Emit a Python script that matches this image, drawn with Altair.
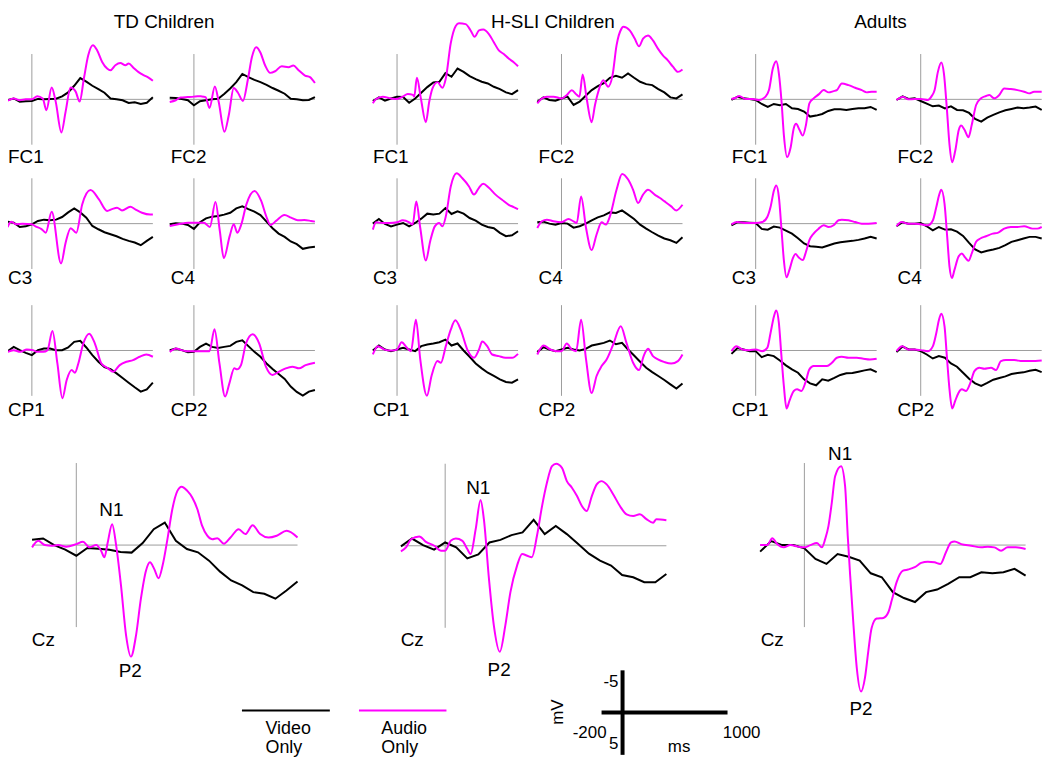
import altair as alt
import pandas as pd

# ---------------------------------------------------------------- data
GROUPS = ["TD Children", "H-SLI Children", "Adults"]
SITES = ["FC1", "FC2", "C3", "C4", "CP1", "CP2"]
SERIES = ["Video Only", "Audio Only"]
SERIES_COLORS = ["#000000", "#ff00ff"]

# time grid (ms) for the Video Only traces
VIDEO_T = list(range(-200, 1001, 50))

# Audio Only traces: (ms, microvolt) read at the turning points; negative is up
TD_FC1_AUDIO = [(-200,0.15),(-150,-0.1),(-100,0.1),(-50,0.0),(0,0.0),(45,-0.35),(90,-0.1),(120,1.2),(164,-1.3),(197,0.25),(244,3.65),(279,1.35),(320,-1.3),(362,-0.85),(395,0.25),(430,-2.3),(466,-4.86),(504,-5.96),(540,-5.4),(581,-4.13),(622,-3.4),(649,-3.2),(690,-3.76),(731,-4.0),(773,-3.76),(800,-3.95),(841,-3.47),(882,-3.0),(923,-2.67),(964,-2.4),(1000,-2.05)]
TD_FC2_AUDIO = [(-200,0.3),(-150,0.1),(-110,-0.2),(-50,-0.25),(0,-0.3),(30,-0.35),(60,-0.33),(96,-0.25),(129,0.95),(173,-1.43),(205,0.3),(252,3.58),(288,1.75),(329,-1.24),(364,-0.73),(405,0.18),(447,-2.27),(479,-4.64),(515,-5.74),(548,-5.2),(589,-3.73),(630,-2.92),(671,-3.1),(726,-3.65),(781,-3.55),(822,-3.73),(863,-3.25),(918,-2.63),(959,-2.45),(1000,-1.8)]
TD_C3_AUDIO = [(-200,0.37),(-172,-0.2),(-130,0.07),(-77,0.0),(0,0.07),(30,0.3),(80,0.6),(115,1.0),(164,-1.3),(241,4.4),(279,2.1),(321,0.5),(367,1.0),(416,-2.1),(485,-3.7),(553,-2.7),(622,-1.4),(663,-1.6),(704,-1.75),(745,-1.46),(814,-1.86),(855,-1.57),(910,-1.2),(978,-1.0),(1000,-1.0)]
TD_C4_AUDIO = [(-200,0.26),(-129,0.07),(-47,-0.1),(0,-0.1),(82,-0.1),(132,0.37),(178,-2.4),(214,0.8),(247,3.8),(296,1.35),(329,0.07),(359,1.0),(392,0.07),(433,-2.1),(501,-3.6),(556,-2.5),(597,-0.84),(633,0.15),(679,-0.3),(748,-0.95),(803,-0.66),(858,-0.37),(912,-0.4),(967,-0.3),(1000,-0.22)]
TD_CP1_AUDIO = [(-200,0.15),(-151,-0.04),(-96,0.15),(-41,-0.1),(8,-0.04),(41,0.15),(96,0.15),(129,-0.04),(170,-2.16),(211,1.43),(252,5.26),(288,3.25),(329,2.16),(356,2.45),(384,1.43),(425,-0.77),(474,-1.86),(521,-0.77),(575,1.43),(630,1.97),(671,2.34),(726,1.61),(781,1.24),(836,1.06),(890,0.69),(945,0.44),(1000,0.69)]
TD_CP2_AUDIO = [(-200,0.15),(-145,-0.22),(-104,-0.04),(-63,0.07),(0,0.07),(60,0.07),(129,0.07),(170,-2.34),(211,1.43),(258,5.08),(293,3.62),(334,1.97),(356,2.08),(389,1.61),(430,-0.77),(485,-1.8),(540,-0.77),(595,1.79),(649,2.7),(704,2.34),(759,1.97),(814,1.79),(868,1.97),(923,1.61),(1000,1.35)]

H_FC1_AUDIO = [(-200,0.44),(-173,-0.04),(-118,-0.3),(-49,-0.1),(0,-0.04),(47,-0.3),(88,-0.6),(132,-0.5),(142,-0.3),(164,-2.37),(197,-0.1),(238,2.52),(266,0.26),(293,-1.2),(334,-1.9),(375,-1.28),(403,-2.3),(444,-6.2),(485,-8.1),(512,-8.4),(567,-8.3),(608,-7.6),(641,-6.9),(677,-7.6),(712,-7.7),(759,-7.2),(800,-6.3),(841,-5.4),(882,-5.0),(923,-4.5),(964,-4.1),(1000,-3.65)]
H_FC2_AUDIO = [(-200,0.44),(-162,-0.1),(-121,-0.3),(-66,-0.3),(0,-0.1),(44,-0.48),(85,-1.0),(126,-0.5),(148,-0.3),(175,-2.74),(208,-0.1),(249,2.52),(277,0.62),(304,-0.84),(345,-2.1),(386,-1.4),(422,-2.67),(455,-5.95),(496,-7.8),(510,-8.0),(564,-7.6),(605,-6.7),(641,-5.85),(674,-6.7),(715,-7.05),(756,-6.5),(797,-5.6),(838,-4.86),(879,-4.3),(921,-3.6),(962,-3.03),(1000,-3.3)]
H_C3_AUDIO = [(-200,0.66),(-173,-0.15),(-118,-0.07),(-63,-0.07),(0,-0.15),(47,-0.37),(101,-0.15),(129,0.1),(159,-2.45),(192,0.48),(238,4.06),(274,1.94),(312,0.3),(348,-0.07),(375,0.3),(403,-0.8),(444,-4.1),(493,-5.55),(540,-5.0),(595,-4.1),(636,-3.2),(677,-3.95),(712,-4.4),(759,-3.95),(814,-3.2),(868,-2.63),(923,-2.08),(964,-1.83),(1000,-1.6)]
H_C4_AUDIO = [(-200,0.48),(-162,-0.26),(-121,-0.44),(-66,-0.26),(0,-0.15),(58,-0.5),(99,-0.26),(126,-0.07),(162,-3.0),(203,0.48),(249,2.92),(290,1.2),(332,-0.15),(367,0.1),(400,-0.8),(455,-3.73),(501,-5.48),(551,-4.86),(592,-3.73),(633,-2.27),(674,-3.2),(715,-3.73),(770,-3.2),(811,-2.85),(852,-2.45),(907,-1.9),(948,-1.46),(1000,-2.08)]
H_CP1_AUDIO = [(-200,0.44),(-159,-0.48),(-104,-0.1),(-49,0.0),(0,-0.1),(38,-0.9),(82,-0.3),(115,0.07),(156,-3.4),(192,0.99),(247,5.0),(285,2.81),(334,1.17),(362,1.35),(403,-0.48),(444,-2.3),(482,-3.33),(526,-2.3),(581,-0.1),(636,0.8),(677,-0.1),(704,-1.0),(745,-0.48),(786,0.44),(841,0.62),(896,0.8),(951,0.8),(1000,0.37)]
H_CP2_AUDIO = [(-200,0.44),(-148,-0.55),(-93,-0.11),(-38,0.07),(0,0.07),(44,-0.77),(85,-0.11),(121,0.07),(162,-3.4),(203,0.99),(249,4.7),(290,2.81),(332,1.72),(373,0.99),(427,-0.66),(490,-2.67),(537,-0.84),(592,1.35),(641,2.16),(679,0.62),(715,-0.18),(756,0.62),(797,0.99),(852,1.28),(907,1.43),(962,1.17),(1000,0.44)]

A_FC1_AUDIO = [(-200,-0.04),(-164,-0.18),(-137,-0.37),(-82,-0.04),(-27,-0.04),(27,0.07),(82,-0.3),(110,-1.02),(142,-3.4),(170,-4.2),(192,-2.85),(214,0.26),(233,3.91),(260,6.36),(288,5.37),(315,3.18),(334,2.7),(362,3.36),(389,4.0),(416,2.8),(444,0.44),(479,-0.11),(521,-0.55),(562,-1.02),(603,-0.77),(644,-0.91),(671,-1.02),(712,-1.75),(767,-1.57),(822,-1.28),(877,-1.02),(918,-0.77),(959,-0.84),(1000,-0.84)]
A_FC2_AUDIO = [(-200,0.07),(-145,-0.3),(-104,0.0),(-49,-0.04),(0,-0.04),(60,0.07),(88,-0.3),(115,-1.02),(142,-3.03),(170,-4.06),(192,-2.85),(216,1.0),(238,5.0),(260,6.94),(285,5.7),(315,3.36),(334,2.89),(362,3.36),(395,4.17),(422,2.8),(458,0.62),(499,-0.11),(540,-0.37),(567,-0.48),(608,-0.11),(649,-0.48),(690,-1.2),(745,-1.13),(800,-1.02),(855,-0.84),(896,-0.66),(937,-0.84),(1000,-0.84)]
A_C3_AUDIO = [(-200,0.07),(-151,-0.18),(-82,-0.07),(0,-0.07),(55,-0.18),(96,-0.73),(123,-1.83),(151,-3.65),(170,-4.2),(192,-2.92),(214,0.73),(233,4.02),(255,5.92),(279,5.1),(307,3.84),(329,3.36),(356,3.73),(389,4.02),(416,3.1),(444,1.83),(479,1.1),(521,0.55),(562,0.18),(603,0.37),(644,0.18),(685,-0.37),(712,-0.44),(767,-0.37),(822,-0.18),(877,0.0),(932,0.0),(1000,-0.07)]
A_C4_AUDIO = [(-200,0.29),(-159,-0.18),(-104,0.0),(-49,0.0),(0,0.07),(60,0.18),(101,-0.37),(129,-1.83),(151,-3.1),(170,-3.73),(197,-2.19),(219,1.46),(238,4.75),(258,6.0),(279,5.1),(312,3.65),(340,3.29),(367,3.73),(395,4.1),(422,3.29),(458,2.0),(493,1.64),(540,1.39),(595,1.1),(636,1.02),(690,0.55),(745,0.37),(800,0.37),(855,0.29),(923,0.55),(964,0.55),(1000,0.37)]
A_CP1_AUDIO = [(-200,0.07),(-159,-0.48),(-110,-0.11),(-55,-0.04),(0,-0.11),(55,0.07),(96,-0.29),(123,-1.93),(151,-3.76),(170,-4.42),(192,-3.03),(211,0.26),(233,3.91),(255,6.4),(279,5.56),(315,4.46),(342,4.28),(378,4.46),(411,3.55),(444,2.08),(479,1.72),(534,1.72),(589,1.72),(630,1.35),(671,0.8),(712,0.69),(767,0.8),(836,0.8),(890,0.91),(945,0.99),(1000,0.91)]
A_CP2_AUDIO = [(-200,0.07),(-153,-0.48),(-104,-0.11),(-49,-0.11),(0,-0.04),(60,0.07),(101,-0.48),(129,-1.93),(151,-3.4),(170,-4.06),(197,-2.67),(216,0.62),(238,4.28),(260,6.4),(285,5.56),(312,4.68),(340,4.28),(375,4.46),(411,3.55),(444,2.27),(485,1.9),(526,2.01),(581,1.9),(622,2.16),(663,1.17),(704,1.06),(773,1.06),(841,1.17),(910,1.17),(1000,1.1)]

TD_CZ_AUDIO = [(-200,0.14),(-172,-0.26),(-142,0.0),(-112,0.04),(-82,0.0),(-45,0.1),(0,-0.06),(30,-0.2),(60,0.14),(90,0.0),(112,0.34),(127,0.75),(142,-0.16),(162,-1.27),(180,0.0),(202,2.46),(225,5.5),(247,6.8),(270,5.5),(292,3.27),(315,1.56),(333,1.05),(352,1.45),(372,2.02),(390,1.25),(412,-0.36),(434,-2.18),(457,-3.3),(476,-3.56),(502,-3.3),(524,-2.9),(547,-2.2),(569,-1.17),(592,-0.57),(614,-0.36),(637,-0.42),(667,-0.08),(697,-0.46),(734,-0.97),(764,-0.67),(797,-1.21),(831,-0.67),(869,-0.46),(906,-0.57),(951,-0.87),(1000,-0.46)]
H_CZ_AUDIO = [(-200,0.34),(-177,0.1),(-154,-0.4),(-117,-0.57),(-87,-0.24),(-49,0.0),(-19,0.3),(0,0.3),(25,-0.3),(48,-0.44),(78,-0.3),(100,0.2),(115,0.5),(138,-1.01),(160,-2.79),(175,-1.62),(198,2.02),(220,4.85),(247,6.46),(272,4.85),(295,2.83),(325,1.21),(348,0.5),(371,0.61),(392,0.7),(415,-0.61),(438,-2.42),(460,-3.84),(483,-4.85),(502,-5.0),(528,-4.75),(550,-3.94),(573,-3.54),(596,-3.03),(618,-2.42),(640,-2.12),(663,-3.03),(685,-3.74),(707,-3.94),(730,-3.74),(760,-3.13),(790,-2.42),(820,-1.92),(850,-1.82),(880,-1.92),(910,-1.62),(940,-1.41),(955,-1.62),(1000,-1.56)]
A_CZ_AUDIO = [(-200,0.0),(-168,0.0),(-145,-0.42),(-123,-0.06),(-93,0.14),(-63,0.0),(-33,0.08),(0,0.14),(27,0.0),(57,-0.12),(79,0.14),(94,-0.36),(109,-1.17),(124,-2.59),(139,-4.2),(166,-4.81),(184,-3.6),(196,-0.57),(207,1.86),(222,4.89),(237,7.51),(256,8.93),(274,8.08),(289,6.46),(304,5.05),(327,4.48),(357,4.44),(380,4.08),(395,3.37),(417,2.26),(446,1.56),(469,1.49),(499,1.35),(528,1.09),(558,1.01),(588,1.05),(615,1.15),(640,0.44),(663,-0.16),(679,-0.22),(709,-0.06),(754,0.04),(799,0.14),(829,0.1),(859,0.14),(889,0.34),(919,0.14),(956,0.14),(1000,0.24)]

# Video Only traces: microvolt at VIDEO_T
TD_FC1_VIDEO = [0.07,-0.1,0.25,0.2,0.18,-0.05,0.0,-0.05,-0.07,-0.33,-0.77,-1.5,-2.35,-1.95,-1.5,-1.13,-0.73,-0.1,0.0,0.1,0.4,0.33,0.5,0.37,-0.22]
TD_FC2_VIDEO = [-0.18,-0.15,-0.04,0.1,0.65,0.2,0.1,0.0,-0.07,-0.6,-1.2,-1.9,-2.8,-2.45,-2.15,-1.9,-1.6,-1.25,-0.95,-0.62,-0.07,0.0,0.1,0.07,-0.25]
TD_C3_VIDEO = [-0.22,-0.1,0.37,0.3,0.07,-0.3,-0.44,-0.37,-0.44,-0.73,-1.24,-1.68,-1.24,-0.66,0.26,0.62,0.95,1.17,1.39,1.68,1.9,2.08,2.38,1.9,1.46]
TD_C4_VIDEO = [0.07,-0.04,0.0,0.15,0.58,-0.15,-0.58,-0.77,-0.84,-0.99,-1.2,-1.68,-1.9,-1.6,-1.32,-0.95,-0.22,0.51,1.1,1.46,1.97,2.27,2.78,2.63,2.56]
TD_CP1_VIDEO = [0.07,-0.4,-0.04,0.26,0.51,-0.04,-0.22,-0.22,-0.04,-0.04,-0.33,-0.95,-1.06,-0.33,0.51,1.24,1.83,2.05,2.52,3.03,3.55,4.06,4.53,4.28,3.55]
TD_CP2_VIDEO = [-0.04,-0.22,-0.04,0.18,0.15,-0.4,-0.77,-0.4,-0.29,-0.4,-0.51,-0.95,-1.13,-0.48,0.15,0.69,1.43,2.05,2.6,3.14,3.98,4.57,4.97,4.53,4.35]

H_FC1_VIDEO = [0.18,-0.22,0.15,-0.1,-0.3,-0.26,0.37,-0.1,-0.73,-1.35,-1.86,-1.94,-2.89,-2.49,-3.4,-3.03,-2.56,-2.23,-1.94,-1.75,-1.39,-1.13,-0.77,-0.58,-1.02]
H_FC2_VIDEO = [0.26,-0.22,0.07,0.15,-0.1,-0.3,0.62,0.26,-0.4,-1.02,-1.46,-1.79,-2.38,-2.6,-2.38,-2.85,-2.38,-1.94,-1.68,-1.57,-1.13,-0.77,-0.22,-0.1,-0.55]
H_C3_VIDEO = [0.0,-0.51,0.04,0.3,0.11,-0.07,0.29,-0.07,-0.55,-1.1,-1.02,-1.1,-1.72,-1.06,-1.35,-1.1,-0.62,-0.33,0.11,0.37,0.51,1.02,1.39,1.28,0.84]
H_C4_VIDEO = [-0.15,-0.22,0.0,0.11,-0.07,0.0,0.44,0.29,0.0,-0.37,-0.69,-0.91,-1.24,-1.17,-1.46,-0.99,-0.51,0.11,0.55,0.95,1.32,1.64,1.83,2.12,1.5]
H_CP1_VIDEO = [0.0,-0.55,-0.11,0.07,-0.11,-0.29,-0.11,0.07,-0.48,-0.66,-0.77,-0.91,-1.2,-0.55,-0.77,0.0,0.69,1.43,1.97,2.45,2.81,3.18,3.47,3.55,3.18]
H_CP2_VIDEO = [0.18,-0.37,-0.11,0.07,-0.11,-0.29,-0.11,0.0,-0.18,-0.55,-0.69,-0.84,-1.1,-0.69,-0.84,-0.11,0.55,1.24,1.9,2.38,2.81,3.25,3.73,4.2,3.65]

A_FC1_VIDEO = [0.07,-0.29,-0.11,-0.04,0.07,0.51,0.84,0.51,0.66,0.51,0.99,1.06,1.35,1.9,1.79,1.61,1.28,1.1,1.1,1.17,1.06,0.99,0.99,0.84,1.17]
A_FC2_VIDEO = [0.07,-0.33,-0.04,-0.11,0.18,0.48,0.77,0.69,0.99,0.77,1.17,1.21,1.5,2.16,2.45,2.01,1.72,1.43,1.21,1.06,0.91,0.99,0.91,0.8,1.17]
A_C3_VIDEO = [0.18,-0.18,-0.15,-0.11,-0.07,0.58,0.66,0.33,0.44,0.77,1.1,1.61,2.19,2.49,2.56,2.63,2.41,2.19,2.05,1.97,1.9,1.79,1.64,1.46,1.64]
A_C4_VIDEO = [0.29,-0.15,0.0,0.0,-0.07,0.29,0.73,0.37,0.66,0.62,0.88,1.35,2.12,2.85,3.18,3.0,2.85,2.67,2.38,2.01,1.83,1.64,1.46,1.46,1.64]
A_CP1_VIDEO = [0.37,-0.26,-0.11,0.07,0.07,0.73,0.48,0.62,1.1,1.64,2.08,2.45,3.18,3.62,3.84,3.18,3.33,3.03,2.7,2.52,2.49,2.34,2.19,2.08,2.38]
A_CP2_VIDEO = [0.18,-0.44,-0.11,-0.11,0.07,0.44,0.88,0.62,0.8,1.43,1.79,2.45,3.11,3.62,3.91,3.58,3.22,3.03,2.85,2.6,2.49,2.41,2.23,2.12,2.38]

TD_CZ_VIDEO = [-0.32,-0.4,0.0,0.28,0.65,0.18,0.22,0.28,0.42,0.46,-0.12,-0.97,-1.37,-0.26,0.24,0.44,0.95,1.62,2.16,2.46,2.87,2.97,3.27,2.77,2.22]
H_CZ_VIDEO = [0.04,-0.44,-0.04,0.24,-0.2,0.1,0.77,0.53,-0.2,-0.36,-0.65,-0.81,-1.58,-0.71,-1.21,-0.71,-0.12,0.48,0.91,1.21,1.78,1.92,2.22,2.22,1.72]
A_CZ_VIDEO = [0.4,-0.24,0.0,0.0,0.2,0.85,1.15,0.55,0.71,0.95,1.72,1.96,2.87,3.23,3.47,2.87,2.71,2.36,1.96,1.96,1.66,1.72,1.66,1.45,1.86]

SMALL = {
    "TD Children": [(TD_FC1_AUDIO, TD_FC1_VIDEO), (TD_FC2_AUDIO, TD_FC2_VIDEO), (TD_C3_AUDIO, TD_C3_VIDEO),
                    (TD_C4_AUDIO, TD_C4_VIDEO), (TD_CP1_AUDIO, TD_CP1_VIDEO), (TD_CP2_AUDIO, TD_CP2_VIDEO)],
    "H-SLI Children": [(H_FC1_AUDIO, H_FC1_VIDEO), (H_FC2_AUDIO, H_FC2_VIDEO), (H_C3_AUDIO, H_C3_VIDEO),
                       (H_C4_AUDIO, H_C4_VIDEO), (H_CP1_AUDIO, H_CP1_VIDEO), (H_CP2_AUDIO, H_CP2_VIDEO)],
    "Adults": [(A_FC1_AUDIO, A_FC1_VIDEO), (A_FC2_AUDIO, A_FC2_VIDEO), (A_C3_AUDIO, A_C3_VIDEO),
               (A_C4_AUDIO, A_C4_VIDEO), (A_CP1_AUDIO, A_CP1_VIDEO), (A_CP2_AUDIO, A_CP2_VIDEO)],
}
LARGE = {"TD Children": (TD_CZ_AUDIO, TD_CZ_VIDEO),
         "H-SLI Children": (H_CZ_AUDIO, H_CZ_VIDEO),
         "Adults": (A_CZ_AUDIO, A_CZ_VIDEO)}

# ---------------------------------------------------------------- layout (page pixels)
OX, OY = 8, 8
W, H = 1040, 753
FONT = "Liberation Sans"
GRAY = "#9c9c9c"
SMALL_X0 = {"TD Children": [32.0, 195.0], "H-SLI Children": [399.3, 564.7], "Adults": [760.0, 926.0]}
SMALL_LABEL_X = {"TD Children": [8.0, 171.7], "H-SLI Children": [375.0, 541.7], "Adults": [736.0, 902.7]}
ROW_YB = [97.7, 222.7, 350.3]
ROW_LABEL_Y = [155.5, 277.5, 410.0]
PXMS_S, PXUV_S = 0.1217, 9.12
LARGE_X0 = {"TD Children": 76.7, "H-SLI Children": 447.7, "Adults": 809.0}
LARGE_YB = {"TD Children": 546.0, "H-SLI Children": 546.7, "Adults": 546.0}
PXMS_L, PXUV_L = 0.2225, 16.5
CZ_LABEL_X = {"TD Children": 32.0, "H-SLI Children": 403.0, "Adults": 765.0}
N1_POS = {"TD Children": (112, 511), "H-SLI Children": (481, 489), "Adults": (845, 454)}
P2_POS = {"TD Children": (131, 673), "H-SLI Children": (502, 672), "Adults": (866, 711)}
TITLE_X = {"TD Children": 165, "H-SLI Children": 556, "Adults": 885.5}
TITLE_Y = 20
LINE_W = 2

COLOR = alt.Scale(domain=SERIES, range=SERIES_COLORS)
ONE = pd.DataFrame({"k": [0]})
FRAME = pd.DataFrame({"t": [0, -200], "t2": [0, 1000], "v": [-5, 0], "v2": [5, 0]})


def panel(audio, video, x0, yb, pxms, pxuv):
    xs = alt.Scale(domain=[-200, 1000], range=[x0 - 200 * pxms - OX, x0 + 1000 * pxms - OX],
                   nice=False, zero=False)
    ys = alt.Scale(domain=[-10, 10], range=[yb - 10 * pxuv - OY, yb + 10 * pxuv - OY],
                   nice=False, zero=False)
    adf = pd.DataFrame(audio, columns=["t", "v"])
    adf["series"] = SERIES[1]
    vdf = pd.DataFrame({"t": VIDEO_T, "v": video, "series": SERIES[0]})
    rules = alt.Chart(FRAME).mark_rule(color=GRAY, strokeWidth=1).encode(
        x=alt.X("t:Q", scale=xs, axis=None), x2="t2:Q",
        y=alt.Y("v:Q", scale=ys, axis=None), y2="v2:Q")
    enc = dict(x=alt.X("t:Q", scale=xs, axis=None), y=alt.Y("v:Q", scale=ys, axis=None),
               color=alt.Color("series:N", scale=COLOR, legend=None))
    vline = alt.Chart(vdf).mark_line(strokeWidth=LINE_W).encode(**enc)
    aline = alt.Chart(adf).mark_line(strokeWidth=LINE_W, interpolate="monotone").encode(**enc)
    return [rules, vline, aline]


def text(s, x, y, align="left", size=19, angle=0):
    return alt.Chart(ONE).mark_text(text=s, align=align, baseline="middle", font=FONT,
                                    fontSize=size, color="black", angle=angle).encode(
        x=alt.value(x - OX), y=alt.value(y - OY))


layers = []
for g in GROUPS:
    layers.append(text(g, TITLE_X[g], TITLE_Y, align="center"))
    for i, site in enumerate(SITES):
        row, col = divmod(i, 2)
        audio, video = SMALL[g][i]
        layers += panel(audio, video, SMALL_X0[g][col], ROW_YB[row], PXMS_S, PXUV_S)
        layers.append(text(site, SMALL_LABEL_X[g][col], ROW_LABEL_Y[row]))
    audio, video = LARGE[g]
    layers += panel(audio, video, LARGE_X0[g], LARGE_YB[g], PXMS_L, PXUV_L)
    layers.append(text("Cz", CZ_LABEL_X[g], 642))
    layers.append(text("N1", *N1_POS[g], align="center"))
    layers.append(text("P2", *P2_POS[g], align="center"))

# legend
for (s, c, xa, xb, tx) in [(SERIES[0], SERIES_COLORS[0], 243.3, 331.7, 267.0),
                          (SERIES[1], SERIES_COLORS[1], 361.0, 449.0, 383.5)]:
    layers.append(alt.Chart(ONE).mark_rule(color=c, strokeWidth=2).encode(
        x=alt.value(xa - OX), x2=alt.value(xb - OX), y=alt.value(712.3 - OY)))
    w1, w2 = s.split(" ")
    layers.append(text(w1, tx, 731, size=18))
    layers.append(text(w2, tx, 750, size=18))

# scale bar
sbx = alt.Scale(domain=[-200, 1000], range=[605 - OX, 731.7 - OX], nice=False, zero=False)
sby = alt.Scale(domain=[-5, 5], range=[672 - OY, 757 - OY], nice=False, zero=False)
layers.append(alt.Chart(FRAME).mark_rule(color="black", strokeWidth=4).encode(
    x=alt.X("t:Q", scale=sbx, axis=None), x2="t2:Q",
    y=alt.Y("v:Q", scale=sby, axis=None), y2="v2:Q"))
layers.append(text("-5", 622, 684, align="right", size=17))
layers.append(text("5", 622, 746, align="right", size=17))
layers.append(text("-200", 610, 735, align="right", size=17))
layers.append(text("1000", 727, 735, size=17))
layers.append(text("ms", 683, 749, align="center", size=17))
layers.append(text("mV", 561, 714, align="center", size=17, angle=270))

chart = alt.layer(*layers).resolve_scale(x="independent", y="independent").properties(
    width=W, height=H, padding=0, autosize=alt.AutoSizeParams(type="none")
).configure_view(stroke=None)

chart.save("out.html", embed_options={"renderer": "svg", "actions": False})
